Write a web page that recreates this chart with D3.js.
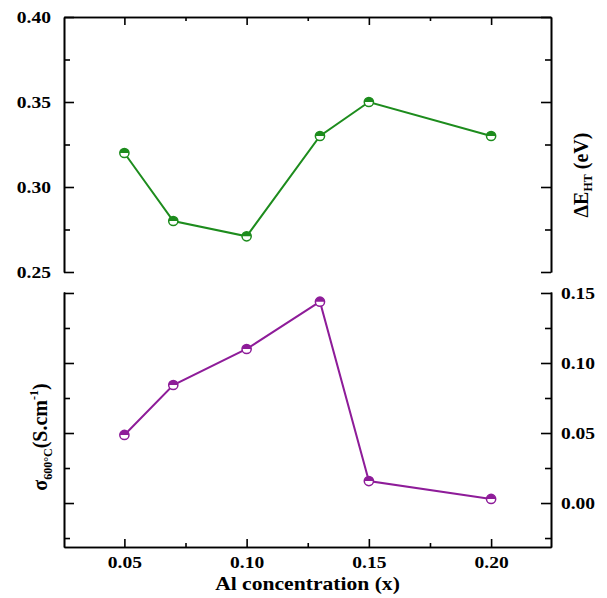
<!DOCTYPE html>
<html>
<head>
<meta charset="UTF-8">
<title>Al concentration</title>
<script src="https://d3js.org/d3.v7.min.js"></script>
<style>
  body { margin: 0; background: #fff; }
  text { font-family: "Liberation Serif", "Times New Roman", serif; font-weight: bold; }
  .axis path, .axis line { stroke: #000; stroke-width: 1.6px; }
  .axis text { font-size: 16px; fill: #000; transform-box: fill-box; }
  .ax-left text { transform-origin: 100% 50%; transform: scaleX(1.22); }
  .ax-right text { transform-origin: 0% 50%; transform: scaleX(1.22); }
  .ax-bottom text { transform-origin: 50% 50%; transform: scaleX(1.22); }
  .xtitle { transform-box: fill-box; transform-origin: 50% 50%; transform: scaleX(1.2); }
</style>
</head>
<body>
<script>
// DATA
var alConc = [0.05, 0.07, 0.10, 0.13, 0.15, 0.20];
var deltaE = [0.320, 0.280, 0.271, 0.330, 0.350, 0.330];
var sigma = [0.0486, 0.0843, 0.110, 0.1438, 0.0157, 0.0029];
var xTicks = [0.05, 0.10, 0.15, 0.20];
var topTicks = [0.25, 0.30, 0.35, 0.40];
var botTicks = [0.00, 0.05, 0.10, 0.15];

var W = 607, H = 598;
var left = 64, right = 551;
var top1 = 17, bot1 = 272;   // upper panel
var top2 = 292, bot2 = 547;  // lower panel

var green = "#1d8c1d", purple = "#8e1c99";

var svg = d3.select("body").append("svg")
    .attr("width", W).attr("height", H);

// SCALES
var x = d3.scaleLinear().domain([0.0253, 0.2245]).range([left, right]);
var yTop = d3.scaleLinear().domain([0.25, 0.40]).range([bot1, top1]);
var yBot = d3.scaleLinear().domain([-0.0314, 0.1507]).range([bot2, top2]);

function minors(scale, step) {
    var d = scale.domain(), out = [];
    for (var v = Math.ceil(d[0] / step - 1e-6) * step; v <= d[1] + 1e-9; v += step) out.push(+v.toFixed(4));
    return out;
}
var xMinor = minors(x, 0.025).filter(function (v) { return xTicks.indexOf(v) < 0; });
var topMinor = [0.275, 0.325, 0.375];
var botMinor = [-0.025, 0.025, 0.075, 0.125];
var fmt = d3.format(".2f");

// UPPER PANEL AXES
svg.append("g").attr("class", "axis ax-left")
    .attr("transform", "translate(" + left + ",0)")
    .call(d3.axisLeft(yTop).tickValues(topTicks).tickFormat(fmt).tickSize(-10).tickSizeOuter(0).tickPadding(13));
svg.append("g").attr("class", "axis")
    .attr("transform", "translate(" + left + ",0)")
    .call(d3.axisLeft(yTop).tickValues(topMinor).tickFormat("").tickSize(-6).tickSizeOuter(0));
svg.append("g").attr("class", "axis")
    .attr("transform", "translate(" + right + ",0)")
    .call(d3.axisRight(yTop).tickValues(topTicks).tickFormat("").tickSize(-10).tickSizeOuter(0));
svg.append("g").attr("class", "axis")
    .attr("transform", "translate(" + right + ",0)")
    .call(d3.axisRight(yTop).tickValues(topMinor).tickFormat("").tickSize(-6).tickSizeOuter(0));
svg.append("g").attr("class", "axis")
    .attr("transform", "translate(0," + top1 + ")")
    .call(d3.axisTop(x).tickValues(xTicks).tickFormat("").tickSize(-8).tickSizeOuter(0));
svg.append("g").attr("class", "axis")
    .attr("transform", "translate(0," + top1 + ")")
    .call(d3.axisTop(x).tickValues(xMinor).tickFormat("").tickSize(-4).tickSizeOuter(0));

// LOWER PANEL AXES
svg.append("g").attr("class", "axis")
    .attr("transform", "translate(" + left + ",0)")
    .call(d3.axisLeft(yBot).tickValues(botTicks).tickFormat("").tickSize(-10).tickSizeOuter(0));
svg.append("g").attr("class", "axis")
    .attr("transform", "translate(" + left + ",0)")
    .call(d3.axisLeft(yBot).tickValues(botMinor).tickFormat("").tickSize(-6).tickSizeOuter(0));
svg.append("g").attr("class", "axis ax-right")
    .attr("transform", "translate(" + right + ",0)")
    .call(d3.axisRight(yBot).tickValues(botTicks).tickFormat(fmt).tickSize(-10).tickSizeOuter(0).tickPadding(10));
svg.append("g").attr("class", "axis")
    .attr("transform", "translate(" + right + ",0)")
    .call(d3.axisRight(yBot).tickValues(botMinor).tickFormat("").tickSize(-6).tickSizeOuter(0));
svg.append("g").attr("class", "axis ax-bottom")
    .attr("transform", "translate(0," + bot2 + ")")
    .call(d3.axisBottom(x).tickValues(xTicks).tickFormat(fmt).tickSize(-8).tickSizeOuter(0).tickPadding(10));
svg.append("g").attr("class", "axis")
    .attr("transform", "translate(0," + bot2 + ")")
    .call(d3.axisBottom(x).tickValues(xMinor).tickFormat("").tickSize(-4).tickSizeOuter(0));

// SERIES
function drawSeries(vals, yScale, color) {
    var pts = alConc.map(function (a, i) { return [x(a), yScale(vals[i])]; });
    svg.append("path")
        .attr("d", d3.line()(pts))
        .attr("fill", "none")
        .attr("stroke", color)
        .attr("stroke-width", 2);
    var r = 4.6;
    var halfArc = d3.arc().innerRadius(0).outerRadius(r)
        .startAngle(-Math.PI / 2).endAngle(Math.PI / 2);
    var g = svg.append("g").selectAll("g").data(pts).join("g")
        .attr("transform", function (d) { return "translate(" + d[0] + "," + d[1] + ")"; });
    g.append("circle").attr("r", r).attr("fill", "#fff");
    g.append("path").attr("d", halfArc()).attr("fill", color);
    g.append("circle").attr("r", r).attr("fill", "none")
        .attr("stroke", color).attr("stroke-width", 1.5);
}
drawSeries(deltaE, yTop, green);
drawSeries(sigma, yBot, purple);

// LABELS
svg.append("text")
    .attr("class", "xtitle")
    .attr("x", (left + right) / 2).attr("y", 590)
    .attr("text-anchor", "middle")
    .style("font-size", "18px")
    .text("Al concentration (x)");

var rLab = svg.append("text")
    .attr("transform", "translate(588,175) rotate(-90)")
    .attr("text-anchor", "middle")
    .style("font-size", "20px");
rLab.append("tspan").text("ΔE");
rLab.append("tspan").attr("dy", 4).style("font-size", "12px").text("HT");
rLab.append("tspan").attr("dy", -4).text(" (eV)");

var lLab = svg.append("text")
    .attr("transform", "translate(47,437) rotate(-90)")
    .attr("text-anchor", "middle")
    .style("font-size", "20px");
lLab.append("tspan").text("σ");
lLab.append("tspan").attr("dy", 5).style("font-size", "12px").text("600°C");
lLab.append("tspan").attr("dy", -5).text("(S.cm");
lLab.append("tspan").attr("dy", -9).style("font-size", "12px").text("-1");
lLab.append("tspan").attr("dy", 9).text(")");
</script>
</body>
</html>
